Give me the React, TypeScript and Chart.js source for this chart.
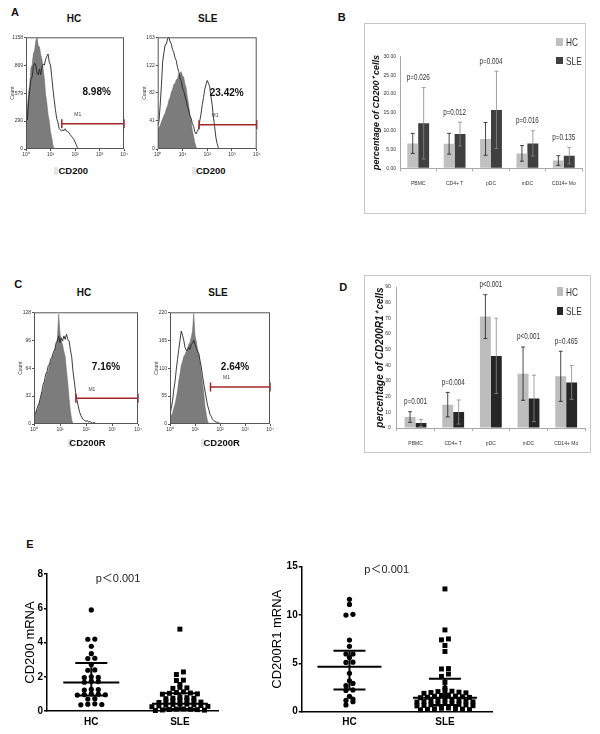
import React, { useEffect, useRef } from "react";
import { Chart, registerables } from "chart.js";

Chart.register(...registerables);
Chart.defaults.font.family = '"Liberation Sans", Arial, sans-serif';

// ===================== DATA =====================
// Flow cytometry histograms: x = log10 fluorescence position, y = event count
const HIST_LOG_X = [0, 0.05, 0.1, 0.15, 0.2, 0.25, 0.3, 0.35, 0.4, 0.45, 0.5, 0.55, 0.6, 0.65, 0.7, 0.75, 0.8, 0.85, 0.9, 0.95, 1.0, 1.05, 1.1, 1.15, 1.2, 1.25, 1.3, 1.35, 1.4, 1.45, 1.5, 1.55, 1.6, 1.65, 1.7, 1.75, 1.8, 1.85, 1.9, 1.95, 2.0, 2.05, 2.1, 2.15, 2.2, 2.25, 2.3, 2.35, 2.4, 2.45, 2.5];
const A_HC_ISOTYPE = [330, 420, 580, 660, 840, 870, 990, 1020, 1120, 1158, 1070, 1060, 980, 930, 830, 730, 570, 480, 360, 290, 180, 120, 40, 0];
const A_HC_CD200 = [340, 300, 470, 610, 720, 750, 850, 890, 870, 790, 770, 830, 770, 850, 880, 870, 930, 960, 985, 900, 870, 750, 620, 510, 410, 320, 280, 215, 200, 185, 200, 190, 210, 185, 180, 170, 150, 135, 118, 100, 72, 45, 15, 0];
const A_SLE_ISOTYPE = [28, 31, 34, 40, 44, 49, 52, 59, 63, 71, 75, 83, 87, 94, 96, 101, 103, 109, 110, 113, 107, 105, 95, 89, 75, 65, 49, 41, 27, 19, 9, 3, 0];
const A_SLE_CD200 = [34, 40, 64, 93, 127, 140, 152, 153, 161, 163, 157, 153, 145, 141, 133, 129, 119, 113, 104, 99, 89, 85, 77, 71, 62, 57, 49, 45, 37, 33, 25, 22, 26, 29, 41, 51, 65, 75, 87, 94, 100, 96, 91, 77, 65, 47, 33, 17, 8, 2, 0];
const C_HC_ISOTYPE = [6, 10, 15, 17, 23, 27, 35, 39, 47, 51, 59, 61, 69, 71, 77, 79, 85, 89, 99, 126, 104, 95, 91, 83, 77, 61, 47, 29, 15, 5, 0];
const C_HC_CD200R = [8, 12, 16, 21, 24, 31, 37, 45, 49, 57, 60, 67, 69, 75, 77, 83, 85, 93, 95, 101, 93, 99, 95, 101, 97, 103, 97, 95, 85, 77, 60, 49, 36, 28, 21, 14, 10, 7, 5, 4, 3, 4, 2, 3, 2, 1, 2, 1, 0];
const C_SLE_ISOTYPE = [12, 17, 21, 31, 39, 51, 65, 85, 99, 115, 123, 133, 137, 143, 149, 157, 161, 171, 183, 218, 175, 163, 147, 137, 121, 101, 81, 61, 35, 19, 6, 0];
const C_SLE_CD200R = [18, 31, 45, 67, 83, 107, 127, 147, 165, 183, 175, 165, 151, 145, 145, 151, 147, 157, 159, 165, 157, 151, 143, 139, 125, 113, 95, 79, 65, 51, 37, 29, 19, 15, 9, 7, 5, 4, 3, 2, 1, 1, 0];

const HIST_X_TICKS = [0, 1, 2, 3, 4];
const A_HC_Y_TICKS = [0, 290, 579, 869, 1158];
const A_SLE_Y_TICKS = [0, 41, 82, 122, 163];
const C_HC_Y_TICKS = [0, 32, 64, 96, 128];
const C_SLE_Y_TICKS = [0, 55, 110, 165, 220];

// M1 gate: start (log10) and drawn count level; gates run to 10^4
const GATE_START = [1.46, 1.67, 1.61, 1.62];
const GATE_LEVEL = [262, 35.5, 29.4, 72.9];
const GATE_PERCENT = ["8.98%", "23.42%", "7.16%", "2.64%"];

// Bar charts
const CELL_TYPES = ["PBMC", "CD4+ T", "pDC", "mDC", "CD14+ Mo"];
const SERIES = ["HC", "SLE"];
const B_HC_MEAN = [6.7, 6.6, 7.9, 4.0, 2.1];
const B_HC_SD = [2.7, 2.8, 4.4, 2.1, 1.3];
const B_SLE_MEAN = [12.1, 9.2, 15.7, 6.7, 3.4];
const B_SLE_SD = [9.6, 3.2, 10.4, 3.4, 2.2];
const B_P = ["p=0.026", "p=0.012", "p=0.004", "p=0.016", "p=0.135"];

const D_HC_MEAN = [7.0, 14.9, 71.1, 34.7, 33.0];
const D_HC_SD = [3.4, 7.8, 14.0, 17.0, 16.0];
const D_SLE_MEAN = [3.2, 10.2, 46.0, 18.9, 29.1];
const D_SLE_SD = [2.3, 7.7, 24.0, 14.8, 10.8];
const D_P = ["p=0.001", "p=0.004", "p<0.001", "p<0.001", "p=0.465"];

// mRNA scatter plots
const GROUPS = ["HC", "SLE"];
const E_CD200_HC = [0.36, 0.38, 0.4, 0.42, 0.7, 0.72, 0.93, 0.95, 0.96, 0.98, 1.0, 1.22, 1.25, 1.26, 1.68, 1.72, 1.74, 1.95, 1.96, 2.0, 2.38, 2.4, 2.72, 3.06, 3.08, 3.35, 3.78, 4.19, 4.2, 5.9];
const E_CD200_SLE = [0.03, 0.05, 0.06, 0.08, 0.09, 0.1, 0.11, 0.12, 0.25, 0.27, 0.3, 0.32, 0.34, 0.36, 0.38, 0.4, 0.42, 0.5, 0.52, 0.55, 0.58, 0.6, 0.63, 0.66, 0.72, 0.74, 0.75, 0.78, 0.8, 0.98, 1.0, 1.03, 1.05, 1.08, 1.12, 1.32, 1.35, 1.38, 1.55, 1.78, 1.8, 2.13, 2.28, 4.78];
const E_CD200_MEDIAN = [1.67, 0.42];
const E_CD200_Q1 = [0.9, 0.12];
const E_CD200_Q3 = [2.8, 1.03];

const E_CD200R1_HC = [0.7, 1.03, 1.17, 1.31, 1.59, 2.2, 2.25, 2.69, 2.93, 3.2, 3.97, 5.1, 5.12, 5.6, 5.97, 5.98, 6.76, 7.41, 10.0, 10.07, 11.1, 11.62];
const E_CD200R1_SLE = [0.2, 0.22, 0.25, 0.27, 0.3, 0.33, 0.35, 0.38, 0.6, 0.62, 0.65, 0.7, 0.72, 0.75, 0.8, 0.85, 0.88, 1.0, 1.02, 1.05, 1.1, 1.12, 1.15, 1.2, 1.25, 1.3, 1.45, 1.48, 1.5, 1.55, 1.6, 1.62, 1.68, 1.72, 1.9, 1.95, 1.98, 2.02, 2.08, 2.12, 2.2, 2.44, 3.03, 3.65, 3.9, 4.42, 4.46, 6.23, 6.85, 7.43, 7.53, 8.46, 12.7];
const E_CD200R1_MEDIAN = [4.66, 1.45];
const E_CD200R1_Q1 = [2.3, 0.7];
const E_CD200R1_Q3 = [6.3, 3.4];

// ===================== STYLE / LAYOUT =====================
const SANS = '"Liberation Sans", Arial, sans-serif';
const GATE_COLOR = "#a3262b";
const SUP = ["\u2070", "\u00b9", "\u00b2", "\u00b3", "\u2074"];
const B_COLORS = ["#c0c0c0", "#3f3f3f"];
const D_COLORS = ["#bdbdbd", "#262626"];

type Area = { left: number; top: number; right: number; bottom: number };

function fixedLayout(w: number, h: number, a: Area) {
  return {
    padding: { left: 0, top: a.top, right: w - a.right, bottom: 0 },
    yFit: (s: any) => {
      s.width = a.left;
    },
    xFit: (s: any) => {
      s.height = h - a.bottom;
    },
  };
}

const baseOpts = {
  animation: false,
  responsive: false,
  events: [] as any[],
};

// ---------- histogram ----------
function histConfig(p: any) {
  const L = fixedLayout(p.w, p.h, p.area);
  const toXY = (arr: number[]) => arr.map((y, i) => ({ x: HIST_LOG_X[i], y }));
  const yMax = p.yTicks[p.yTicks.length - 1];
  const framePlugin = {
    id: "frame",
    afterDatasetsDraw(chart: any) {
      const { ctx, chartArea: a } = chart;
      ctx.save();
      ctx.strokeStyle = "#555";
      ctx.lineWidth = 1;
      ctx.strokeRect(a.left + 0.5, a.top + 0.5, a.right - a.left - 1, a.bottom - a.top - 1);
      const pt = chart.getDatasetMeta(0).data[0];
      ctx.fillStyle = "#444";
      ctx.font = `5px ${SANS}`;
      ctx.textAlign = "center";
      ctx.textBaseline = "middle";
      ctx.fillText("M1", pt.x + 16, pt.y - 9);
      ctx.restore();
    },
  };
  return {
    type: "line",
    data: {
      datasets: [
        {
          label: "M1",
          data: [
            { x: p.gateStart, y: p.gateLevel },
            { x: 4, y: p.gateLevel },
          ],
          borderColor: GATE_COLOR,
          borderWidth: 1.5,
          pointStyle: "line",
          pointRotation: 90,
          pointRadius: 4.5,
          pointBorderWidth: 1.5,
          pointBorderColor: GATE_COLOR,
          pointBackgroundColor: GATE_COLOR,
          clip: false,
          order: 0,
        },
        {
          label: "stained",
          data: toXY(p.pos),
          borderColor: "#262626",
          borderWidth: 0.9,
          pointRadius: 0,
          fill: false,
          order: 1,
        },
        {
          label: "isotype",
          data: toXY(p.iso),
          borderColor: "#6a6a6a",
          backgroundColor: "#7c7c7c",
          borderWidth: 0.5,
          pointRadius: 0,
          fill: "origin",
          order: 2,
        },
      ],
    },
    options: {
      ...baseOpts,
      layout: { padding: L.padding },
      plugins: { legend: { display: false }, tooltip: { enabled: false } },
      scales: {
        x: {
          type: "linear",
          min: 0,
          max: 4,
          afterBuildTicks: (s: any) => {
            s.ticks = HIST_X_TICKS.map((value) => ({ value }));
          },
          ticks: {
            font: { size: 5 },
            color: "#333",
            padding: 1,
            maxRotation: 0,
            autoSkip: false,
            callback: (v: any) => "10" + SUP[v],
          },
          grid: { drawOnChartArea: false, tickLength: 2, color: "#555" },
          border: { display: false },
          afterFit: L.xFit,
        },
        y: {
          min: 0,
          max: yMax,
          afterBuildTicks: (s: any) => {
            s.ticks = p.yTicks.map((value: number) => ({ value }));
          },
          ticks: { font: { size: 5 }, color: "#333", padding: 1, callback: (v: any) => String(v) },
          title: { display: true, text: "Count", font: { size: 5 }, color: "#333", padding: { top: 10, bottom: 0 } },
          grid: { drawOnChartArea: false, tickLength: 2, color: "#555" },
          border: { display: false },
          afterFit: L.yFit,
        },
      },
    },
    plugins: [framePlugin],
  };
}

// ---------- bar charts with error bars ----------
function barConfig(o: any) {
  const L = fixedLayout(o.w, o.h, o.area);
  const extrasPlugin = {
    id: "extras",
    afterDatasetsDraw(chart: any) {
      const { ctx } = chart;
      const y = chart.scales.y;
      const x = chart.scales.x;
      ctx.save();
      ctx.lineWidth = 0.8;
      chart.data.datasets.forEach((ds: any, di: number) => {
        const meta = chart.getDatasetMeta(di);
        ctx.strokeStyle = di === 0 ? "#1a1a1a" : "#8a8a8a";
        meta.data.forEach((bar: any, i: number) => {
          const v = ds.data[i];
          const e = ds.errors[i];
          const yt = y.getPixelForValue(v + e);
          const yb = y.getPixelForValue(Math.max(0, v - e));
          ctx.beginPath();
          ctx.moveTo(bar.x, yt);
          ctx.lineTo(bar.x, yb);
          ctx.moveTo(bar.x - 2, yt);
          ctx.lineTo(bar.x + 2, yt);
          ctx.moveTo(bar.x - 2, yb);
          ctx.lineTo(bar.x + 2, yb);
          ctx.stroke();
        });
      });
      ctx.fillStyle = "#333";
      ctx.font = `${o.pFont}px ${SANS}`;
      ctx.textAlign = "center";
      ctx.textBaseline = "middle";
      o.pLabels.forEach((t: string, i: number) => {
        let top = Infinity;
        chart.data.datasets.forEach((ds: any) => {
          top = Math.min(top, y.getPixelForValue(ds.data[i] + ds.errors[i]));
        });
        ctx.save();
        ctx.translate(x.getPixelForValue(i), top - 10);
        ctx.scale(0.74, 1);
        ctx.fillText(t, 0, 0);
        ctx.restore();
      });
      ctx.restore();
    },
  };
  return {
    type: "bar",
    data: {
      labels: CELL_TYPES,
      datasets: o.series.map((s: any) => ({
        label: s.name,
        data: s.mean,
        errors: s.sd,
        backgroundColor: s.color,
        categoryPercentage: o.catPct,
        barPercentage: 1,
      })),
    },
    options: {
      ...baseOpts,
      layout: { padding: L.padding },
      plugins: { legend: { display: false }, tooltip: { enabled: false } },
      scales: {
        x: {
          grid: { offset: true, drawOnChartArea: false, tickLength: 3, color: "#a8a8a8" },
          border: { color: "#a8a8a8" },
          ticks: { font: { size: 5 }, color: "#333", padding: o.xPad, maxRotation: 0, autoSkip: false },
          afterFit: L.xFit,
        },
        y: {
          min: 0,
          max: o.yMax,
          ticks: { stepSize: o.yStep, font: { size: 5 }, color: "#333", padding: o.yPad, callback: o.tickFmt },
          title: {
            display: true,
            text: o.yTitle,
            font: { size: o.titleSize, style: "italic", weight: "bold" },
            color: "#111",
            padding: { top: o.titlePad, bottom: 0 },
          },
          grid: { drawOnChartArea: false, drawTicks: false, tickLength: 0 },
          border: { color: "#a8a8a8" },
          afterFit: L.yFit,
        },
      },
    },
    plugins: [extrasPlugin],
  };
}

// ---------- scatter dot plots ----------
function swarm(values: number[], center: number, rowH: number, step: number) {
  const sorted = [...values].sort((a, b) => a - b);
  const rows: number[][] = [];
  let start = -Infinity;
  for (const v of sorted) {
    if (!rows.length || v - start > rowH) {
      rows.push([]);
      start = v;
    }
    rows[rows.length - 1].push(v);
  }
  const pts: { x: number; y: number }[] = [];
  for (const row of rows) {
    const n = row.length;
    const order: number[] = [];
    let lo = 0;
    let hi = n - 1;
    while (lo <= hi) {
      order.push(lo++);
      if (lo <= hi) order.push(hi--);
    }
    row.forEach((v, i) => pts.push({ x: center + (order[i] - (n - 1) / 2) * step, y: v }));
  }
  return pts;
}

function scatterConfig(o: any) {
  const L = fixedLayout(o.w, o.h, o.area);
  const plotW = o.area.right - o.area.left;
  const plotH = o.area.bottom - o.area.top;
  const step = (7 * (o.xMax - o.xMin)) / plotW;
  const rowH = (3.4 * o.yMax) / plotH;
  const summaryPlugin = {
    id: "summary",
    afterDatasetsDraw(chart: any) {
      const { ctx } = chart;
      const x = chart.scales.x;
      const y = chart.scales.y;
      ctx.save();
      ctx.strokeStyle = "#000";
      ctx.lineWidth = 2;
      o.median.forEach((m: number, i: number) => {
        const cx = x.getPixelForValue(i + 1);
        const ym = y.getPixelForValue(m);
        const y1 = y.getPixelForValue(o.q1[i]);
        const y3 = y.getPixelForValue(o.q3[i]);
        ctx.beginPath();
        ctx.moveTo(cx - o.halfMean, ym);
        ctx.lineTo(cx + o.halfMean, ym);
        ctx.moveTo(cx - 16, y1);
        ctx.lineTo(cx + 16, y1);
        ctx.moveTo(cx - 16, y3);
        ctx.lineTo(cx + 16, y3);
        ctx.moveTo(cx, y1);
        ctx.lineTo(cx, y3);
        ctx.stroke();
      });
      ctx.restore();
    },
  };
  return {
    type: "scatter",
    data: {
      datasets: [
        {
          label: GROUPS[0],
          data: swarm(o.hc, 1, rowH, step),
          pointStyle: "circle",
          pointRadius: 2.6,
          backgroundColor: "#000",
          borderWidth: 0,
          clip: false,
        },
        {
          label: GROUPS[1],
          data: swarm(o.sle, 2, rowH, step),
          pointStyle: "rect",
          pointRadius: 3.5,
          backgroundColor: "#000",
          borderWidth: 0,
          clip: false,
        },
      ],
    },
    options: {
      ...baseOpts,
      layout: { padding: L.padding },
      plugins: { legend: { display: false }, tooltip: { enabled: false } },
      scales: {
        x: {
          type: "linear",
          min: o.xMin,
          max: o.xMax,
          afterBuildTicks: (s: any) => {
            s.ticks = GROUPS.map((_, i) => ({ value: i + 1 }));
          },
          ticks: {
            font: { size: 10, weight: "bold" },
            color: "#000",
            padding: o.xPad,
            callback: (v: any) => GROUPS[v - 1],
          },
          grid: { display: false, drawTicks: false },
          border: { color: "#000", width: 1.5 },
          afterFit: L.xFit,
        },
        y: {
          min: 0,
          max: o.yMax,
          ticks: { stepSize: o.yStep, font: { size: 10, weight: "bold" }, color: "#000", padding: 1 },
          title: {
            display: true,
            text: o.yTitle,
            font: { size: 13 },
            color: "#000",
            padding: { top: o.titlePad, bottom: 0 },
          },
          grid: { drawOnChartArea: false, tickLength: 3, color: "#000", lineWidth: 1.5 },
          border: { color: "#000", width: 1.5 },
          afterFit: L.yFit,
        },
      },
    },
    plugins: [summaryPlugin],
  };
}

// ===================== COMPONENTS =====================
function ChartCanvas(props: { left: number; top: number; w: number; h: number; make: () => any }) {
  const ref = useRef<HTMLCanvasElement | null>(null);
  useEffect(() => {
    const chart = new Chart(ref.current as HTMLCanvasElement, props.make());
    return () => chart.destroy();
  }, []);
  return (
    <canvas
      ref={ref}
      width={props.w}
      height={props.h}
      style={{ position: "absolute", left: props.left, top: props.top, width: props.w, height: props.h }}
    />
  );
}

function T(props: { x: number; y: number; children: any; style?: any }) {
  return (
    <div
      style={{
        position: "absolute",
        left: props.x,
        top: props.y,
        transform: "translate(-50%, -50%)",
        whiteSpace: "nowrap",
        lineHeight: 1,
        fontFamily: SANS,
        color: "#111",
        ...props.style,
      }}
    >
      {props.children}
    </div>
  );
}

const HISTS = [
  { left: 0, top: 30, w: 132, h: 134, area: { left: 26, top: 7.3, right: 124, bottom: 119 }, iso: A_HC_ISOTYPE, pos: A_HC_CD200, yTicks: A_HC_Y_TICKS, g: 0 },
  { left: 132, top: 30, w: 132, h: 134, area: { left: 25.7, top: 7.3, right: 124.7, bottom: 119 }, iso: A_SLE_ISOTYPE, pos: A_SLE_CD200, yTicks: A_SLE_Y_TICKS, g: 1 },
  { left: 8, top: 305, w: 136, h: 134, area: { left: 26, top: 7.3, right: 130.3, bottom: 119 }, iso: C_HC_ISOTYPE, pos: C_HC_CD200R, yTicks: C_HC_Y_TICKS, g: 2 },
  { left: 144, top: 305, w: 132, h: 134, area: { left: 26, top: 7.3, right: 126.7, bottom: 119 }, iso: C_SLE_ISOTYPE, pos: C_SLE_CD200R, yTicks: C_SLE_Y_TICKS, g: 3 },
];
const PCT_POS = [
  [96.7, 91.7],
  [226.7, 92.7],
  [106, 366.7],
  [235, 366.7],
];

function Legend(props: { x: number; y: number; colors: string[]; sw: number; sh: number; gap: number }) {
  return (
    <>
      {SERIES.map((s, i) => (
        <React.Fragment key={s}>
          <div
            style={{
              position: "absolute",
              left: props.x,
              top: props.y + i * props.gap - props.sh / 2,
              width: props.sw,
              height: props.sh,
              background: props.colors[i],
            }}
          />
          <div
            style={{
              position: "absolute",
              left: props.x + props.sw + 3,
              top: props.y + i * props.gap - 6,
              fontFamily: SANS,
              fontSize: 11.5,
              lineHeight: "12px",
              color: "#333",
              transform: "scaleX(0.72)",
              transformOrigin: "left center",
            }}
          >
            {s}
          </div>
        </React.Fragment>
      ))}
    </>
  );
}

export default function App() {
  const letter = { fontWeight: "bold", fontSize: 11 };
  const title = { fontWeight: "bold", fontSize: 10 };
  const marker = { fontWeight: "bold", fontSize: 9.5 };
  const pct = { fontWeight: "bold", fontSize: 10 };
  const pE = { fontSize: 11, color: "#222", fontFamily: '"Liberation Sans", Arial, "Noto Sans CJK SC", sans-serif' };
  return (
    <div style={{ position: "absolute", left: 0, top: 0, width: 600, height: 734, background: "#fff", overflow: "hidden" }}>
      {/* panel frames for B and D */}
      <div style={{ position: "absolute", left: 364, top: 23, width: 222, height: 191, border: "1px solid #c8c8c8", boxSizing: "border-box" }} />
      <div style={{ position: "absolute", left: 364, top: 275, width: 227, height: 178, border: "1px solid #c8c8c8", boxSizing: "border-box" }} />

      {HISTS.map((h, i) => (
        <ChartCanvas
          key={i}
          left={h.left}
          top={h.top}
          w={h.w}
          h={h.h}
          make={() => histConfig({ ...h, gateStart: GATE_START[h.g], gateLevel: GATE_LEVEL[h.g] })}
        />
      ))}

      <ChartCanvas
        left={365}
        top={24}
        w={221}
        h={189}
        make={() =>
          barConfig({
            w: 221,
            h: 189,
            area: { left: 35, top: 32.7, right: 217, bottom: 144.3 },
            series: [
              { name: SERIES[0], mean: B_HC_MEAN, sd: B_HC_SD, color: B_COLORS[0] },
              { name: SERIES[1], mean: B_SLE_MEAN, sd: B_SLE_SD, color: B_COLORS[1] },
            ],
            catPct: 0.6,
            yMax: 30,
            yStep: 5,
            tickFmt: (v: any) => Number(v).toFixed(2),
            yTitle: "percentage of CD200\u207a cells",
            titleSize: 9,
            titlePad: 6.6,
            xPad: 9,
            yPad: 4,
            pFont: 8.5,
            pLabels: B_P,
          })
        }
      />
      <ChartCanvas
        left={365}
        top={276}
        w={225}
        h={175}
        make={() =>
          barConfig({
            w: 225,
            h: 175,
            area: { left: 31.7, top: 11, right: 220, bottom: 152 },
            series: [
              { name: SERIES[0], mean: D_HC_MEAN, sd: D_HC_SD, color: D_COLORS[0] },
              { name: SERIES[1], mean: D_SLE_MEAN, sd: D_SLE_SD, color: D_COLORS[1] },
            ],
            catPct: 0.58,
            yMax: 90,
            yStep: 10,
            tickFmt: (v: any) => String(v),
            yTitle: "percentage of CD200R1\u207a cells",
            titleSize: 10,
            titlePad: 9,
            xPad: 10,
            yPad: 6,
            pFont: 8.5,
            pLabels: D_P,
          })
        }
      />

      <ChartCanvas
        left={15}
        top={560}
        w={210}
        h={174}
        make={() =>
          scatterConfig({
            w: 210,
            h: 174,
            area: { left: 32, top: 14, right: 203, bottom: 151 },
            xMin: 0.5,
            xMax: 2.43,
            yMax: 8,
            yStep: 2,
            hc: E_CD200_HC,
            sle: E_CD200_SLE,
            median: E_CD200_MEDIAN,
            q1: E_CD200_Q1,
            q3: E_CD200_Q3,
            halfMean: 28,
            yTitle: "CD200 mRNA",
            titlePad: 7.2,
            xPad: 5,
          })
        }
      />
      <ChartCanvas
        left={262}
        top={555}
        w={238}
        h={179}
        make={() =>
          scatterConfig({
            w: 238,
            h: 179,
            area: { left: 39.7, top: 11.7, right: 230.7, bottom: 156.7 },
            xMin: 0.5,
            xMax: 2.5,
            yMax: 15,
            yStep: 5,
            hc: E_CD200R1_HC,
            sle: E_CD200R1_SLE,
            median: E_CD200R1_MEDIAN,
            q1: E_CD200R1_Q1,
            q3: E_CD200R1_Q3,
            halfMean: 32,
            yTitle: "CD200R1 mRNA",
            titlePad: 7.5,
            xPad: 5,
          })
        }
      />

      {/* legends */}
      <Legend x={556} y={42} colors={B_COLORS} sw={7} sh={7.3} gap={18.5} />
      <Legend x={557} y={291.7} colors={D_COLORS} sw={6} sh={8.5} gap={19.5} />

      {/* panel letters */}
      <T x={15} y={12.3} style={letter}>A</T>
      <T x={341.7} y={17.3} style={letter}>B</T>
      <T x={18.3} y={284} style={letter}>C</T>
      <T x={343.3} y={286.7} style={letter}>D</T>
      <T x={30} y={544.3} style={letter}>E</T>

      {/* histogram group titles */}
      <T x={74} y={19} style={title}>HC</T>
      <T x={207.7} y={19} style={title}>SLE</T>
      <T x={84} y={293.3} style={title}>HC</T>
      <T x={218} y={293.3} style={title}>SLE</T>

      {/* marker labels */}
      <div style={{ position: "absolute", left: 54, top: 167, width: 4, height: 8, background: "#e6e6e6" }} />
      <T x={73.3} y={171} style={marker}>CD200</T>
      <div style={{ position: "absolute", left: 192, top: 167, width: 4, height: 8, background: "#e6e6e6" }} />
      <T x={210.8} y={171} style={marker}>CD200</T>
      <div style={{ position: "absolute", left: 68, top: 439, width: 4, height: 8, background: "#e6e6e6" }} />
      <T x={87.5} y={443} style={marker}>CD200R</T>
      <div style={{ position: "absolute", left: 201, top: 439, width: 4, height: 8, background: "#e6e6e6" }} />
      <T x={221.7} y={443} style={marker}>CD200R</T>

      {/* gate percentages */}
      {GATE_PERCENT.map((p, i) => (
        <T key={p} x={PCT_POS[i][0]} y={PCT_POS[i][1]} style={pct}>
          {p}
        </T>
      ))}

      {/* p values for E */}
      <T x={118} y={578.3} style={pE}>p＜0.001</T>
      <T x={386.7} y={569} style={pE}>p＜0.001</T>
    </div>
  );
}
